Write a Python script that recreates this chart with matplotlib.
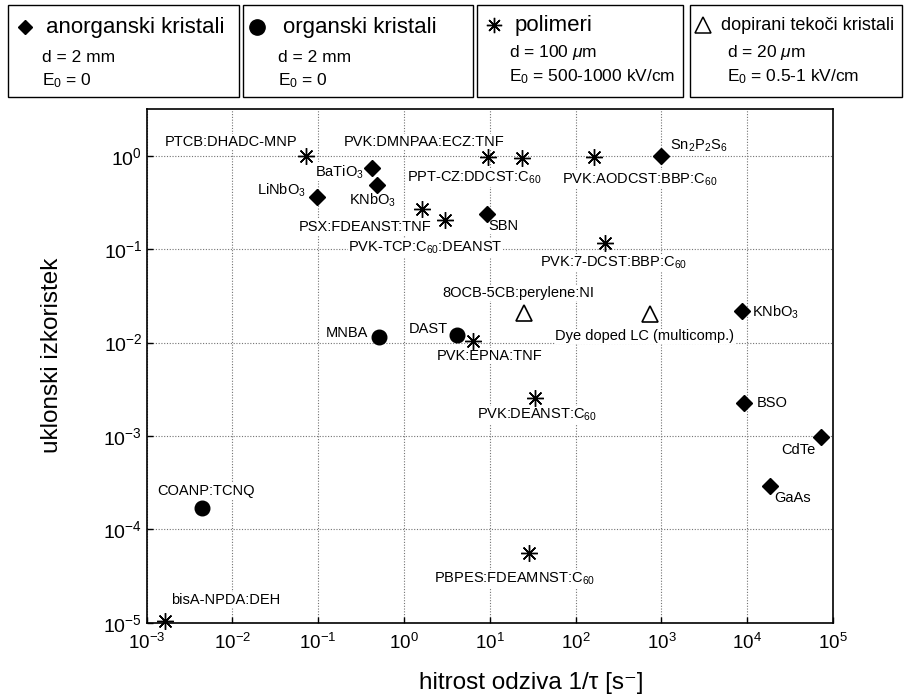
import numpy as np
import matplotlib.pyplot as plt
from matplotlib.patches import Rectangle
from matplotlib.lines import Line2D

plt.rcParams['font.family'] = ['Liberation Sans', 'DejaVu Sans']
plt.rcParams['mathtext.fontset'] = 'custom'
plt.rcParams['mathtext.rm'] = 'Liberation Sans'
plt.rcParams['mathtext.it'] = 'Liberation Sans:italic'
plt.rcParams['mathtext.bf'] = 'Liberation Sans:bold'

# --- data ---
# anorganski kristali
inorg_names = ['LiNbO$_3$', 'BaTiO$_3$', 'KNbO$_3$', 'SBN', 'Sn$_2$P$_2$S$_6$',
               'KNbO$_3$', 'BSO', 'CdTe', 'GaAs']
inorg_x = [0.096, 0.42, 0.48, 9.3, 980, 8800, 9300, 72000, 18200]
inorg_y = [0.364, 0.74, 0.49, 0.236, 1.0, 0.0219, 0.00227, 0.00097, 2.9e-4]

# organski kristali
org_names = ['MNBA', 'DAST', 'COANP:TCNQ']
org_x = [0.515, 4.1, 0.00445]
org_y = [0.0114, 0.012, 1.69e-4]

# polimeri
poly_names = ['PTCB:DHADC-MNP', 'PVK:DMNPAA:ECZ:TNF', 'PPT-CZ:DDCST:C$_{60}$',
              'PVK:AODCST:BBP:C$_{60}$', 'PSX:FDEANST:TNF', 'PVK-TCP:C$_{60}$:DEANST',
              'PVK:7-DCST:BBP:C$_{60}$', 'PVK:EPNA:TNF', 'PVK:DEANST:C$_{60}$',
              'PBPES:FDEAMNST:C$_{60}$', 'bisA-NPDA:DEH']
poly_x = [0.072, 9.6, 24, 163, 1.61, 3.05, 219, 6.3, 33.5, 28.4, 0.00166]
poly_y = [1.0, 0.98, 0.94, 0.96, 0.27, 0.205, 0.115, 0.0104, 0.00253, 5.6e-5, 1.05e-5]

# dopirani tekoci kristali
lc_names = ['8OCB-5CB:perylene:NI', 'Dye doped LC (multicomp.)']
lc_x = [25, 733]
lc_y = [0.0205, 0.020]

# label placement (offset in pixels, horizontal alignment)
inorg_off = [(-11, 6, 'right'), (-8, -4, 'right'), (-4, -16, 'center'), (1, -12, 'left'),
             (9, 10, 'left'), (10, -2, 'left'), (12, 0, 'left'), (-22, -13, 'center'),
             (5, -12, 'left')]
org_off = [(-11, 4, 'right'), (-9, 6, 'right'), (4, 17, 'center')]
poly_off = [(-9, 14, 'right'), (-64, 15, 'center'), (-48, -20, 'center'), (46, -22, 'center'),
            (10, -18, 'right'), (-20, -28, 'center'), (9, -19, 'center'), (17, -15, 'center'),
            (2, -17, 'center'), (-14, -26, 'center'), (6, 21, 'left')]
lc_off = [(-6, 20, 'center'), (-5, -22, 'center')]

W, H = 905, 699
fig = plt.figure(figsize=(W / 100, H / 100), dpi=100)
ax = fig.add_axes([146.5 / W, 1 - 622.7 / H, (833 - 146.5) / W, (622.7 - 109) / H])

asterisk = (8, 2, 0)
mk = dict(color='black', linestyle='none', zorder=5, clip_on=False)
ax.plot(inorg_x, inorg_y, marker='D', markersize=8.5, **mk)
ax.plot(org_x, org_y, marker='o', markersize=10.5, **mk)
ax.plot(poly_x, poly_y, marker=asterisk, markersize=12, markeredgewidth=1.0, **mk)
ax.plot(lc_x, lc_y, marker='^', markersize=12, markerfacecolor='none',
        markeredgewidth=1.2, **mk)


def put_labels(names, xs, ys, offs):
    for n, x, y, (dx, dy, ha) in zip(names, xs, ys, offs):
        ax.annotate(n, (x, y), xytext=(dx, dy), textcoords='offset pixels',
                    ha=ha, va='center', fontsize=10.5, zorder=4,
                    bbox=dict(facecolor='white', edgecolor='none', pad=0.5))


put_labels(inorg_names, inorg_x, inorg_y, inorg_off)
put_labels(org_names, org_x, org_y, org_off)
put_labels(poly_names, poly_x, poly_y, poly_off)
put_labels(lc_names, lc_x, lc_y, lc_off)

ax.set_xscale('log')
ax.set_yscale('log')
ax.set_xlim(1e-3, 1e5)
ax.set_ylim(1e-5, 10 ** 0.5)
ax.set_xticks([10.0 ** k for k in range(-3, 6)])
ax.set_yticks([10.0 ** k for k in range(-5, 1)])
ax.minorticks_off()
ax.set_axisbelow(True)
ax.grid(True, which='major', color='0.45', linestyle=(0, (1, 1.5)), linewidth=0.8)
ax.tick_params(direction='in', length=4, width=1, top=False, right=False)
ax.tick_params(axis='x', labelsize=13.5, pad=7)
ax.tick_params(axis='y', labelsize=14, pad=3)
for s in ax.spines.values():
    s.set_linewidth(1.2)

ax.set_xlabel('hitrost odziva 1/τ [s⁻]', fontsize=17.5)
ax.xaxis.set_label_coords(0.561, -0.095)
ax.set_ylabel('uklonski izkoristek', fontsize=17.5)
ax.yaxis.set_label_coords(-0.121, 0.52)

# --- legend boxes on top ---
boxes = [(8, 239), (243, 473), (477, 683), (690, 902)]
for x0, x1 in boxes:
    fig.add_artist(Rectangle((x0 / W, 1 - 97 / H), (x1 - x0) / W, 92 / H,
                             transform=fig.transFigure, facecolor='none',
                             edgecolor='black', linewidth=1.0))


def fpt(px, py):
    return px / W, 1 - py / H


def legend_marker(px, py, **kw):
    x, y = fpt(px, py)
    fig.add_artist(Line2D([x], [y], transform=fig.transFigure, color='black',
                          linestyle='none', **kw))


def ftext(px, py, s, size):
    x, y = fpt(px, py)
    fig.text(x, y, s, fontsize=size, ha='left', va='center')


legend_marker(25, 27, marker='D', markersize=7)
ftext(46, 27, 'anorganski kristali', 16)
ftext(42, 57, 'd = 2 mm', 12.5)
ftext(42, 81, 'E$_0$ = 0', 12.5)

legend_marker(257, 27, marker='o', markersize=11)
ftext(283, 27, 'organski kristali', 16)
ftext(278, 57, 'd = 2 mm', 12.5)
ftext(278, 81, 'E$_0$ = 0', 12.5)

legend_marker(494, 25, marker=asterisk, markersize=11, markeredgewidth=1.0)
ftext(515, 25, 'polimeri', 16)
ftext(509, 52, 'd = 100 $\\mu$m', 12.5)
ftext(509, 77, 'E$_0$ = 500-1000 kV/cm', 12.5)

legend_marker(703, 25, marker='^', markersize=11, markerfacecolor='none', markeredgewidth=1.1)
ftext(721, 25, 'dopirani tekoči kristali', 13)
ftext(727, 52, 'd = 20 $\\mu$m', 12.5)
ftext(727, 77, 'E$_0$ = 0.5-1 kV/cm', 12.5)

fig.savefig('out.png', dpi=100)
